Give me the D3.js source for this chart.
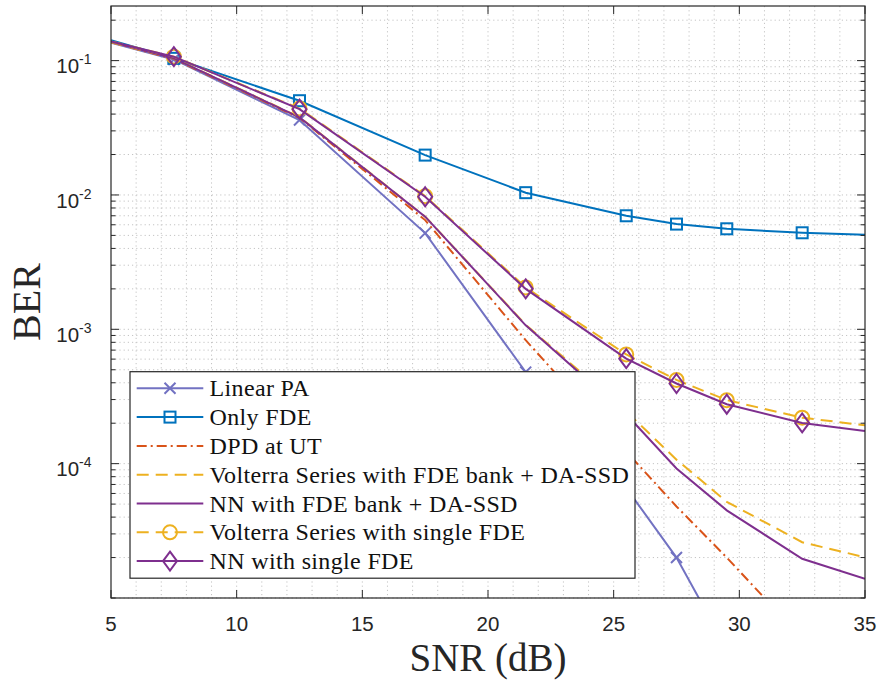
<!DOCTYPE html>
<html>
<head>
<meta charset="utf-8">
<script src="https://cdn.jsdelivr.net/npm/d3@7"></script>
<style>
  body { margin: 0; background: #fff; }
  svg { display: block; }
  .serif { font-family: "Liberation Serif", "DejaVu Serif", Times, serif; }
  .sans { font-family: "Liberation Sans", Arial, Helvetica, sans-serif; }
</style>
</head>
<body>
<div id="chart"></div>
<script>
// data
const snr = [5, 7.5, 12.5, 17.5, 21.5, 25.5, 27.5, 29.5, 32.5, 35];
const linearPA = [0.136, 0.102, 0.0361, 0.0052, 0.00048, 0.000066, 0.00002, 0.0000042, null, null];
const onlyFDE = [0.142, 0.104, 0.0503, 0.0198, 0.0104, 0.0070, 0.00607, 0.0056, 0.00523, 0.00505];
const dpdUT = [0.137, 0.103, 0.0375, 0.0065, 0.00083, 0.000123, 0.000048, 0.00002, 0.000005, null];
const volterraBank = [0.137, 0.104, 0.038, 0.0069, 0.00108, 0.000245, 0.000107, 0.000052, 0.000026, 0.0000201];
const nnBank = [0.138, 0.104, 0.0378, 0.0069, 0.00107, 0.000233, 0.000092, 0.0000449, 0.0000196, 0.0000139];
const volterraSingle = [0.139, 0.107, 0.0440, 0.0098, 0.00205, 0.00065, 0.00042, 0.000297, 0.00022, 0.000193];
const nnSingle = [0.139, 0.107, 0.0435, 0.0097, 0.0020, 0.000605, 0.000395, 0.000277, 0.000201, 0.000175];

const xTicks = [5, 10, 15, 20, 25, 30, 35];
const yTicks = [1e-1, 1e-2, 1e-3, 1e-4];
const yTickExp = ["-1", "-2", "-3", "-4"];

const series = [
  { name: "Linear PA", values: linearPA, color: "#7272c2", dash: null, marker: "x" },
  { name: "Only FDE", values: onlyFDE, color: "#0072BD", dash: null, marker: "square" },
  { name: "DPD at UT", values: dpdUT, color: "#D95319", dash: "10,4,2,4", marker: null },
  { name: "Volterra Series with FDE bank + DA-SSD", values: volterraBank, color: "#EDB120", dash: "12,7", marker: null },
  { name: "NN with FDE bank + DA-SSD", values: nnBank, color: "#7E2F8E", dash: null, marker: null },
  { name: "Volterra Series with single FDE", values: volterraSingle, color: "#EDB120", dash: "12,7", marker: "circle" },
  { name: "NN with single FDE", values: nnSingle, color: "#7E2F8E", dash: null, marker: "diamond" }
];

const W = 880, H = 682;
const margin = { top: 6, right: 15, bottom: 84, left: 111 };
const width = W - margin.left - margin.right,
      height = H - margin.top - margin.bottom;

const svg = d3.select("#chart").append("svg")
    .attr("width", W)
    .attr("height", H);

const x = d3.scaleLinear().domain([5, 35]).range([0, width]);
const y = d3.scaleLog().domain([1e-5, 0.255]).range([height, 0]);

const g = svg.append("g").attr("transform", `translate(${margin.left},${margin.top})`);

svg.append("defs").append("clipPath").attr("id", "clip")
  .append("rect").attr("width", width).attr("height", height);

// grid (dotted, major + minor)
const yMinor = [];
for (let e = -5; e <= -1; e++) {
  for (let m = 1; m <= 9; m++) {
    const v = m * Math.pow(10, e);
    if (v >= 1e-5 && v <= 0.255) yMinor.push(v);
  }
}
const xMinor = d3.range(6, 35, 1);

const grid = g.append("g");
grid.selectAll(".gy").data(yMinor).join("line")
    .attr("x1", 0).attr("x2", width)
    .attr("y1", d => y(d)).attr("y2", d => y(d))
    .attr("stroke", "#c4c4c4").attr("stroke-width", 1)
    .attr("stroke-dasharray", "1.2,3");
grid.selectAll(".gx").data(xMinor).join("line")
    .attr("y1", 0).attr("y2", height)
    .attr("x1", d => x(d)).attr("x2", d => x(d))
    .attr("stroke", "#c4c4c4").attr("stroke-width", 1)
    .attr("stroke-dasharray", "1.2,3");

// lines
const line = d3.line()
    .defined(d => d[1] != null)
    .x(d => x(d[0]))
    .y(d => y(d[1]));

const plot = g.append("g").attr("clip-path", "url(#clip)");

function drawMarker(sel, type, color) {
  if (type === "x") {
    sel.append("path").attr("d", "M-5.5,-5.5L5.5,5.5M-5.5,5.5L5.5,-5.5")
       .attr("stroke", color).attr("stroke-width", 2).attr("fill", "none");
  } else if (type === "square") {
    sel.append("rect").attr("x", -5.5).attr("y", -5.5).attr("width", 11).attr("height", 11)
       .attr("stroke", color).attr("stroke-width", 2).attr("fill", "none");
  } else if (type === "circle") {
    sel.append("circle").attr("r", 7)
       .attr("stroke", color).attr("stroke-width", 2).attr("fill", "none");
  } else if (type === "diamond") {
    sel.append("path").attr("d", "M0,-9.5L7,0L0,9.5L-7,0Z")
       .attr("stroke", color).attr("stroke-width", 2).attr("fill", "none");
  }
}

series.forEach(s => {
  const pts = snr.map((v, i) => [v, s.values[i]]);
  plot.append("path")
      .datum(pts)
      .attr("d", line)
      .attr("fill", "none")
      .attr("stroke", s.color)
      .attr("stroke-width", 2)
      .attr("stroke-dasharray", s.dash);
  if (s.marker) {
    // markers on interior points only
    pts.slice(1, pts.length - 1).filter(d => d[1] != null).forEach(d => {
      const m = plot.append("g").attr("transform", `translate(${x(d[0])},${y(d[1])})`);
      drawMarker(m, s.marker, s.color);
    });
  }
});

// axes box and ticks
const axisColor = "#262626";
const ax = g.append("g");
ax.append("rect").attr("width", width).attr("height", height)
  .attr("fill", "none").attr("stroke", axisColor).attr("stroke-width", 1.2);

xTicks.forEach(t => {
  ax.append("line").attr("x1", x(t)).attr("x2", x(t)).attr("y1", height).attr("y2", height - 8)
    .attr("stroke", axisColor);
  ax.append("line").attr("x1", x(t)).attr("x2", x(t)).attr("y1", 0).attr("y2", 8)
    .attr("stroke", axisColor);
  ax.append("text").attr("class", "sans")
    .attr("x", x(t)).attr("y", height + 32.5)
    .attr("text-anchor", "middle")
    .attr("font-size", 20.5).attr("fill", axisColor)
    .text(t);
});

yMinor.forEach(v => {
  const major = yTicks.includes(v);
  const len = major ? 8 : 4.5;
  ax.append("line").attr("x1", 0).attr("x2", len).attr("y1", y(v)).attr("y2", y(v))
    .attr("stroke", axisColor);
  ax.append("line").attr("x1", width).attr("x2", width - len).attr("y1", y(v)).attr("y2", y(v))
    .attr("stroke", axisColor);
});

yTicks.forEach((t, i) => {
  const txt = ax.append("text").attr("class", "sans")
      .attr("x", -19.5).attr("y", y(t) + 12.6)
      .attr("text-anchor", "end")
      .attr("font-size", 20.5).attr("fill", axisColor);
  txt.append("tspan").text("10");
  txt.append("tspan").attr("dy", -9).attr("font-size", 14).text(yTickExp[i]);
});

// axis labels
svg.append("text").attr("class", "serif")
    .attr("x", margin.left + width / 2).attr("y", 671)
    .attr("text-anchor", "middle")
    .attr("font-size", 39).attr("fill", axisColor)
    .text("SNR (dB)");

svg.append("text").attr("class", "serif")
    .attr("transform", `translate(40,${margin.top + height / 2}) rotate(-90)`)
    .attr("text-anchor", "middle")
    .attr("font-size", 40).attr("fill", axisColor)
    .text("BER");

// legend
const legend = svg.append("g").attr("transform", "translate(130,371.7)");
legend.append("rect").attr("width", 505).attr("height", 206.5)
  .attr("fill", "#fff").attr("stroke", axisColor).attr("stroke-width", 1.2);

series.forEach((s, i) => {
  const cy = 16.6 + i * 28.8;
  const row = legend.append("g").attr("transform", `translate(0,${cy})`);
  row.append("line").attr("x1", 6.7).attr("x2", 73.3).attr("y1", 0).attr("y2", 0)
     .attr("stroke", s.color).attr("stroke-width", 2)
     .attr("stroke-dasharray", s.dash);
  if (s.marker) {
    const m = row.append("g").attr("transform", "translate(40,0)");
    drawMarker(m, s.marker, s.color);
  }
  row.append("text").attr("class", "serif")
     .attr("x", 79.5).attr("y", 8)
     .attr("font-size", 24).attr("letter-spacing", 0.35).attr("fill", "#111")
     .text(s.name);
});
</script>
</body>
</html>
